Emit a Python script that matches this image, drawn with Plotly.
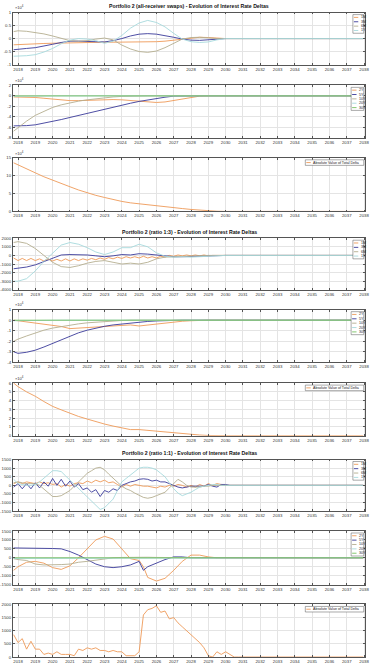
import plotly.graph_objects as go

W, H = 380, 666

# ---- time axes (categories) ----
X_H = ["2017-10-01"] + [f"{y}-{m:02d}-01" for y in range(2018, 2030) for m in (1, 7)] + ["2030-01-01", "2037-12-15"]
X_Q = ["2017-10-01"] + [f"{y}-{m:02d}-01" for y in range(2018, 2031) for m in (1, 4, 7, 10)] + ["2037-12-15"]
X_8 = X_H[:16] + ["2025-04-01"] + X_H[16:]

# ---- Portfolio 2 (all-receiver swaps) ----
P1_1M = [-2400, -2300, -2100, -2000, -1900, -1800, -1700, -1600, -1500, -1500, -1400, -1400, -1400, -1400, -1300, -1300, -1250, -1200, -1000, -600, -100, 300, 500, 400, 100, 0, 0]
P1_3M = [-4300, -4200, -3800, -3500, -3000, -2200, -1500, -1000, -1000, -1000, -1200, -1300, -800, 0, 1000, 1700, 1900, 1700, 1200, 500, -200, -600, -700, -500, -200, 0, 0]
P1_6M = [2700, 3000, 2800, 2400, 1800, 1000, 0, -800, -1000, -800, -200, 200, -500, -2500, -4000, -5000, -5300, -4800, -3500, -1800, -200, 400, 500, 300, 0, 0, 0]
P1_1Y = [-6800, -6800, -6600, -6200, -5200, -3800, -2000, -600, 0, -200, -800, -1800, -1000, 1200, 4000, 6000, 7000, 6200, 4500, 2000, -200, -1200, -1500, -1300, -500, 0, 0]

P2_2Y = [-2000, -2000, -2500, -3000, -4500, -6000, -8000, -9000, -9000, -8500, -7500, -7000, -7000, -7500, -9000, -10500, -12000, -12500, -11500, -9000, -6000, -3000, -500, 0, 0, 0, 0]
P2_5Y = [-57000, -57000, -56500, -55000, -52000, -49000, -45000, -41000, -37000, -33000, -29000, -25000, -21000, -17500, -14000, -10500, -7500, -5000, -2500, -500, 0, 0, 0, 0, 0, 0, 0]
P2_10Y = [-67000, -60000, -48000, -37000, -29000, -22000, -17000, -13000, -10000, -7500, -5500, -3500, -2000, -1000, -300, 0, 0, 0, 0, 0, 0, 0, 0, 0, 0, 0, 0]
P2_20Y = [-800, -600, -400, -300, -200, -150, -100, -50, 0, 0, 0, 0, 0, 0, 0, 0, 0, 0, 0, 0, 0, 0, 0, 0, 0, 0, 0]
P2_30Y = [0] * 27

P3_TOTAL = [136000, 130000, 119000, 108000, 97000, 87000, 77000, 69000, 60000, 52000, 45000, 39000, 33000, 28000, 24000, 21000, 18000, 16000, 13000, 11000, 8000, 5500, 3500, 2000, 500, 0, 0]

# ---- Portfolio 2 (ratio 1:3) ----
P4_1M = [-300, -600, -350, -600, -350, -600, -400, -650, -400, -650, -450, -650, -400, -650, -400, -600, -400, -550, -350, -500,
         -300, -450, -250, -400, -200, -350, -150, -300, -150, -300, -100, -300, -150, -300, -100, -200, 0, -100, 50, -50,
         50, -50, 50, -50, 50, -50, 0, -30, 0, 0, 0, 0, 0, 0]
P4_3M = [-1550, -1500, -1350, -1100, -700, -300, 50, 100, 100, 50, -50, -150, -50, 100, 50, 200, 150, 50, -100, -150, -150, -100, -100, -50, -30, 0, 0]
P4_6M = [1500, 1600, 1400, 800, 0, -800, -1300, -1400, -1200, -900, -700, -600, -800, -1000, -900, -1000, -800, -400, -200, -150, -100, -50, 0, 0, 0, 0, 0]
P4_1Y = [-3000, -3000, -2700, -1800, -700, 300, 1200, 1500, 1300, 900, 400, 100, 400, 900, 900, 1300, 1000, 300, -100, -200, -150, -200, -150, -100, -50, 0, 0]

P5_2Y = [0, -500, -1500, -2500, -3500, -4500, -6000, -8000, -7500, -7000, -6000, -5500, -5000, -4500, -4500, -5500, -4500, -3500, -2500, -1800, -1000, -500, 0, 0, 0, 0, 0]
P5_5Y = [-30000, -31500, -30500, -28500, -25500, -22000, -18500, -15000, -12000, -9500, -7500, -5800, -4500, -3500, -2500, -1800, -1200, -700, -300, 0, 0, 0, 0, 0, 0, 0, 0]
P5_10Y = [-20000, -18000, -15000, -12000, -9500, -7500, -6000, -4500, -3500, -2500, -1800, -1200, -700, -300, 0, 0, 0, 0, 0, 0, 0, 0, 0, 0, 0, 0, 0]
P5_20Y = [-500, -400, -300, -200, -100, -50, 0, 0, 0, 0, 0, 0, 0, 0, 0, 0, 0, 0, 0, 0, 0, 0, 0, 0, 0, 0, 0]
P5_30Y = [0] * 27

P6_TOTAL = [60000, 56000, 50000, 45000, 39000, 33500, 29500, 25500, 22000, 19000, 16000, 13300, 11000, 8700, 7000, 7000, 6000, 5000, 4000, 3000, 2200, 1500, 800, 300, 0, 0, 0]

# ---- Portfolio 2 (ratio 1:1) ----
P7_1M = [100, 200, 100, 200, 150, 100, 200, 100, 150, 50, 100, -100, 50, -50, 100, 150, 100, 250, 150, 300,
         200, 300, 150, 200, 50, -100, 50, -50, 50, 0, -50, -50, -100, -150, -50, -100, 0, -50, 50, 0,
         -100, 0, -100, 50, -50, 100, 0, 100, 50, 0, 0, 0, 0, 0]
P7_3M = [-100, 100, -200, 100, -200, 150, -150, 200, -50, 400, 0, 350, -50, 250, -100, 100, -250, -150, -400, -250,
         -650, -300, -400, -200, -300, 0, 100, 200, 250, 350, 380, 350, 250, 300, 200, 200, 100, 0, -100, -150,
         -100, -50, -50, -30, -50, 50, -50, -100, 50, 50, 0, 0, 0, 0]
P7_6M = [150, 200, 150, 100, 100, 100, 0, -200, -450, -650, -650, -600, -450, -300, -50, 200, 450, 700, 850, 1000,
         1050, 900, 650, 400, 150, -50, -200, -300, -450, -600, -700, -750, -700, -600, -500, -400, -150, 100, 350, 200,
         0, -100, -100, -100, -50, -50, 0, 0, 0, 0, 0, 0, 0, 0]
P7_1Y = [350, 100, 50, 0, 0, 50, 200, 400, 650, 850, 850, 800, 550, 300, 50, -200, -450, -700, -950, -1200,
         -1400, -1300, -1050, -800, -300, 200, 400, 600, 800, 1000, 1050, 1050, 1000, 900, 700, 500, 150, -200, -450, -600,
         -500, -400, -250, -100, -50, 0, 50, 50, 0, 0, 0, 0, 0, 0]

P8_2Y = [-700, -500, -250, -200, -300, -550, -650, -450, 0, 500, 1000, 1200, 1050, 500, -50, -150, -500, -1100, -1300, -1150, -700, -200, 150, 150, 50, 0, 0, 0]
P8_5Y = [550, 550, 530, 520, 520, 520, 500, 350, 150, -100, -350, -500, -550, -500, -400, -200, -700, -500, -300, -100, 50, 50, 0, 0, 0, 0, 0, 0]
P8_10Y = [-50, -100, -150, -350, -400, -400, -380, -350, -250, -200, -120, -50, 0, 20, 30, 50, 40, 30, 20, 10, 0, 0, 0, 0, 0, 0, 0, 0]
P8_20Y = [-40, -40, -30, -30, -20, -20, -10, -10, 0, 0, 0, 0, 0, 0, 0, 0, 0, 0, 0, 0, 0, 0, 0, 0, 0, 0, 0, 0]
P8_30Y = [0] * 28

P9_TOTAL = [850, 550, 700, 300, 600, 300, 300, 100, 150, 100, 200, 100, 100, 100, 50, 300, 250, 350, 300, 350,
            250, 250, 200, 250, 200, 200, 50, 50, 50, 200, 1600, 1800, 1850, 1950, 1700, 1750, 1450, 1500, 1300, 1150,
            1000, 850, 700, 550, 350, 50, 0, 200, 100, 200, 100, 0, 0, 0]

TITLES = {1: "Portfolio 2 (all-receiver swaps) - Evolution of Interest Rate Deltas",
          4: "Portfolio 2 (ratio 1:3) - Evolution of Interest Rate Deltas",
          7: "Portfolio 2 (ratio 1:1) - Evolution of Interest Rate Deltas"}

ORANGE, NAVY, TAN, CYAN, GREEN = "#EE9A58", "#3A3A9A", "#B4AE8E", "#A6D9DD", "#78C262"

# panel pixel boxes (top, bottom)
BOX = {1: (10.7, 63), 2: (84, 137), 3: (157, 211), 4: (238, 290), 5: (310, 363),
       6: (384, 437), 7: (461, 513), 8: (533, 587), 9: (607, 660)}
XL, XR = 9, 369

def ticks(lo, hi, step, scale):
    vals = list(range(lo, hi + 1, step))
    return vals, [("%g" % (v / scale)) for v in vals]

PANELS = {
    1: dict(series=[(X_H, P1_1M, "1M", ORANGE), (X_H, P1_3M, "3M", NAVY), (X_H, P1_6M, "6M", TAN), (X_H, P1_1Y, "1Y", CYAN)],
            rng=(-10000, 10000), step=5000, scale=10000, exp=True),
    2: dict(series=[(X_H, P2_2Y, "2Y", ORANGE), (X_H, P2_5Y, "5Y", NAVY), (X_H, P2_10Y, "10Y", TAN), (X_H, P2_20Y, "20Y", CYAN), (X_H, P2_30Y, "30Y", GREEN)],
            rng=(-80000, 20000), step=20000, scale=10000, exp=True),
    3: dict(series=[(X_H, P3_TOTAL, "Absolute Value of Total Delta", ORANGE)],
            rng=(0, 150000), step=50000, scale=10000, exp=True),
    4: dict(series=[(X_Q, P4_1M, "1M", ORANGE), (X_H, P4_3M, "3M", NAVY), (X_H, P4_6M, "6M", TAN), (X_H, P4_1Y, "1Y", CYAN)],
            rng=(-4000, 2000), step=1000, scale=1, exp=False),
    5: dict(series=[(X_H, P5_2Y, "2Y", ORANGE), (X_H, P5_5Y, "5Y", NAVY), (X_H, P5_10Y, "10Y", TAN), (X_H, P5_20Y, "20Y", CYAN), (X_H, P5_30Y, "30Y", GREEN)],
            rng=(-40000, 10000), step=10000, scale=10000, exp=True),
    6: dict(series=[(X_H, P6_TOTAL, "Absolute Value of Total Delta", ORANGE)],
            rng=(0, 60000), step=10000, scale=10000, exp=True),
    7: dict(series=[(X_Q, P7_1M, "1M", ORANGE), (X_Q, P7_3M, "3M", NAVY), (X_Q, P7_6M, "6M", TAN), (X_Q, P7_1Y, "1Y", CYAN)],
            rng=(-1500, 1500), step=500, scale=1, exp=False),
    8: dict(series=[(X_8, P8_2Y, "2Y", ORANGE), (X_8, P8_5Y, "5Y", NAVY), (X_8, P8_10Y, "10Y", TAN), (X_8, P8_20Y, "20Y", CYAN), (X_8, P8_30Y, "30Y", GREEN)],
            rng=(-1500, 1500), step=500, scale=1, exp=False),
    9: dict(series=[(X_Q, P9_TOTAL, "Absolute Value of Total Delta", ORANGE)],
            rng=(0, 2000), step=500, scale=1, exp=False),
}

fig = go.Figure()
annotations, shapes = [], []
layout = dict(width=W, height=H, margin=dict(l=0, r=0, t=0, b=0),
              paper_bgcolor="white", plot_bgcolor="white", showlegend=False,
              font=dict(family="Liberation Sans, Arial, sans-serif", size=5, color="#333333"))

LEG_FS = 3.6      # legend font size
LEG_EH = 4.4      # legend entry height (px)

def px(x, y):
    return x / W, 1 - y / H

for k, p in PANELS.items():
    sfx = "" if k == 1 else str(k)
    for xs, ys, name, col in p["series"]:
        fig.add_trace(go.Scatter(x=xs, y=ys, mode="lines", name=name,
                                 line=dict(color=col, width=0.9),
                                 xaxis="x" + sfx, yaxis="y" + sfx))
    top, bot = BOX[k]
    lo, hi = p["rng"]
    tv, tt = ticks(lo, hi, p["step"], p["scale"])
    common = dict(showgrid=True, gridcolor="#e4e4e4", gridwidth=0.6,
                  showline=True, linecolor="#555555", linewidth=0.7, mirror="ticks",
                  ticks="inside", ticklen=2, tickwidth=0.6, tickcolor="#555555",
                  tickfont=dict(size=4.3, color="#333333"), zeroline=False)
    layout["xaxis" + sfx] = dict(domain=[XL / W, XR / W], anchor="y" + sfx, type="date",
                                 range=["2017-09-13", "2038-01-26"], dtick="M12", tick0="2018-01-01",
                                 tickformat="%Y", **common)
    layout["yaxis" + sfx] = dict(domain=[1 - bot / H, 1 - top / H], anchor="x" + sfx, range=[lo, hi],
                                 tickvals=tv, ticktext=tt, **common)

    # compact MATLAB-style legend box (upper right)
    names = [s[2] for s in p["series"]]
    maxlen = max(len(n) for n in names)
    bw = 7.5 + 0.5 * LEG_FS * maxlen
    bh = len(names) * LEG_EH + 1.2
    bx1 = XR - 1.5
    bx0 = bx1 - bw
    by0 = top + 2
    by1 = by0 + bh
    x0, y0 = px(bx0, by0)
    x1, y1 = px(bx1, by1)
    shapes.append(dict(type="rect", xref="paper", yref="paper", x0=x0, x1=x1, y0=y1, y1=y0,
                       fillcolor="white", line=dict(color="#555555", width=0.5), layer="above"))
    for i, (xs, ys, name, col) in enumerate(p["series"]):
        cy = by0 + 0.6 + (i + 0.5) * LEG_EH
        lx0, ly = px(bx0 + 1.0, cy)
        lx1, _ = px(bx0 + 5.5, cy)
        shapes.append(dict(type="line", xref="paper", yref="paper", x0=lx0, x1=lx1, y0=ly, y1=ly,
                           line=dict(color=col, width=0.9), layer="above"))
        tx, _ = px(bx0 + 6.3, cy)
        annotations.append(dict(text=name, xref="paper", yref="paper", x=tx, y=ly,
                                xanchor="left", yanchor="middle", showarrow=False,
                                font=dict(size=LEG_FS, color="#222222")))

    if p["exp"]:
        ex, ey = px(XL, top - 0.3)
        annotations.append(dict(text="×10<sup>4</sup>", xref="paper", yref="paper",
                                x=ex, y=ey, xanchor="left", yanchor="bottom",
                                showarrow=False, font=dict(size=4, color="#333333")))
    if k in TITLES:
        tx, ty = px((XL + XR) / 2, top - 1.2)
        annotations.append(dict(text="<b>" + TITLES[k] + "</b>", xref="paper", yref="paper",
                                x=tx, y=ty, xanchor="center", yanchor="bottom",
                                showarrow=False, font=dict(size=5.2, color="#111111")))

layout["annotations"] = annotations
layout["shapes"] = shapes
fig.update_layout(**layout)
fig.write_html("out.html")
